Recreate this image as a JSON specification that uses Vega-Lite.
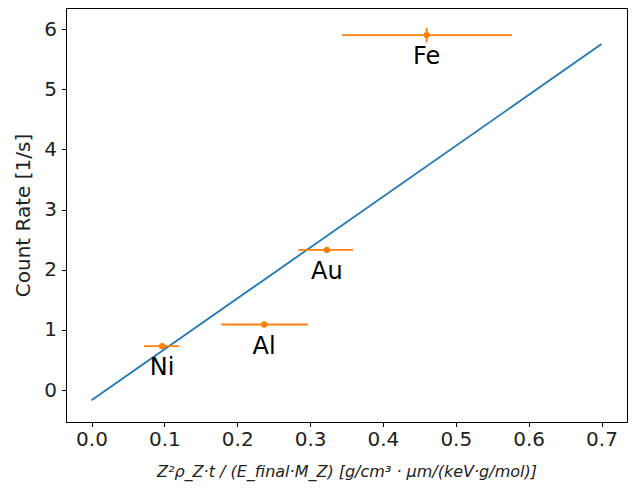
{
  "$schema": "https://vega.github.io/schema/vega-lite/v6.json",
  "width": 561,
  "height": 414,
  "autosize": "none",
  "padding": {"left": 66, "top": 8, "right": 6, "bottom": 75},
  "background": "white",
  "config": {
    "view": {"stroke": "black", "strokeWidth": 1},
    "font": "DejaVu Sans",
    "axis": {
      "grid": false,
      "domainColor": "black",
      "tickColor": "black",
      "tickSize": 4.5,
      "labelColor": "#222222",
      "labelFontSize": 20,
      "titleColor": "#222222",
      "titleFontWeight": "normal",
      "labelFont": "DejaVu Sans",
      "titleFont": "DejaVu Sans"
    }
  },
  "datasets": {
    "points": [
      {"element": "Ni", "x": 0.097, "xlo": 0.072, "xhi": 0.12, "y": 0.73, "ylo": 0.70, "yhi": 0.76},
      {"element": "Al", "x": 0.237, "xlo": 0.178, "xhi": 0.297, "y": 1.09, "ylo": 1.06, "yhi": 1.12},
      {"element": "Au", "x": 0.323, "xlo": 0.284, "xhi": 0.359, "y": 2.33, "ylo": 2.30, "yhi": 2.36},
      {"element": "Fe", "x": 0.46, "xlo": 0.344, "xhi": 0.577, "y": 5.9, "ylo": 5.78, "yhi": 6.02}
    ],
    "fit": [
      {"x": 0.0, "y": -0.17},
      {"x": 0.7, "y": 5.75}
    ]
  },
  "layer": [
    {
      "data": {"name": "fit"},
      "mark": {"type": "line", "color": "#1f77b4", "strokeWidth": 1.8},
      "encoding": {
        "x": {
          "field": "x", "type": "quantitative",
          "scale": {"domain": [-0.035, 0.735], "nice": false, "zero": false},
          "axis": {
            "values": [0, 0.1, 0.2, 0.3, 0.4, 0.5, 0.6, 0.7],
            "format": ".1f",
            "labelPadding": 3,
            "title": "Z²ρ_Z·t / (E_final·M_Z)   [g/cm³ · μm/(keV·g/mol)]",
            "titleFontSize": 16,
            "titleFontStyle": "italic",
            "titlePadding": 14
          }
        },
        "y": {
          "field": "y", "type": "quantitative",
          "scale": {"domain": [-0.53, 6.35], "nice": false, "zero": false},
          "axis": {
            "values": [0, 1, 2, 3, 4, 5, 6],
            "format": "d",
            "labelPadding": 5,
            "title": "Count Rate [1/s]",
            "titleFontSize": 20,
            "titlePadding": 10
          }
        }
      }
    },
    {
      "data": {"name": "points"},
      "mark": {"type": "rule", "color": "#ff7f0e", "strokeWidth": 1.8},
      "encoding": {
        "x": {"field": "xlo", "type": "quantitative"},
        "x2": {"field": "xhi"},
        "y": {"field": "y", "type": "quantitative"}
      }
    },
    {
      "data": {"name": "points"},
      "mark": {"type": "rule", "color": "#ff7f0e", "strokeWidth": 1.8},
      "encoding": {
        "x": {"field": "x", "type": "quantitative"},
        "y": {"field": "ylo", "type": "quantitative"},
        "y2": {"field": "yhi"}
      }
    },
    {
      "data": {"name": "points"},
      "mark": {"type": "circle", "color": "#ff7f0e", "size": 40, "opacity": 1},
      "encoding": {
        "x": {"field": "x", "type": "quantitative"},
        "y": {"field": "y", "type": "quantitative"}
      }
    },
    {
      "data": {"name": "points"},
      "mark": {"type": "text", "fontSize": 24, "dy": 22, "color": "black", "baseline": "middle", "align": "center"},
      "encoding": {
        "x": {"field": "x", "type": "quantitative"},
        "y": {"field": "y", "type": "quantitative"},
        "text": {"field": "element"}
      }
    }
  ]
}
